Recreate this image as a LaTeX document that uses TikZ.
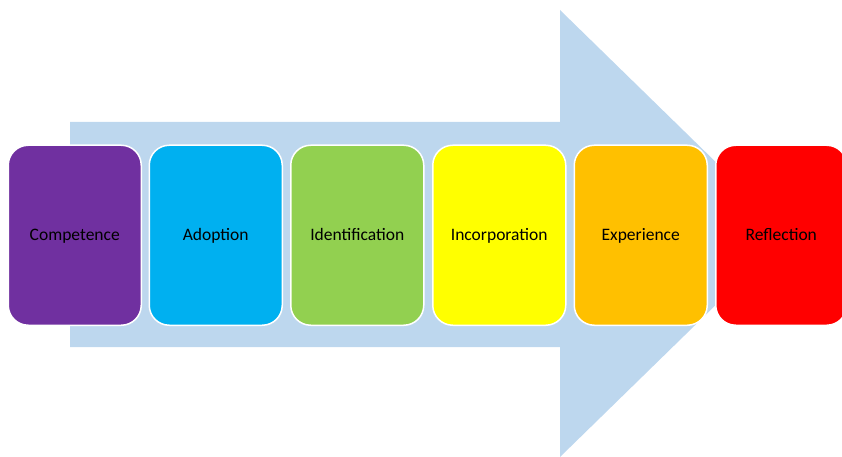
\documentclass[tikz,border=0pt]{standalone}
\usepackage{fontspec}
\setmainfont{Carlito}
\definecolor{arrowblue}{HTML}{BDD7EE}
\definecolor{cpurple}{HTML}{7030A0}
\definecolor{cblue}{HTML}{00B0F0}
\definecolor{cgreen}{HTML}{92D050}
\definecolor{cyellow}{HTML}{FFFF00}
\definecolor{corange}{HTML}{FFC000}
\definecolor{cred}{HTML}{FF0000}
\begin{document}
\begin{tikzpicture}[x=1pt,y=-1pt,
  stage/.style={draw=white, line width=1.5pt, rounded corners=20pt,
    minimum width=133pt, minimum height=180pt, inner sep=0pt,
    text height=14pt, text depth=3pt,
    font=\fontsize{17.5}{20}\selectfont, text=black, anchor=north west}]
\useasboundingbox (0,0) rectangle (842,457);
\clip (0,0) rectangle (842,457);
\fill[arrowblue] (70,122) -- (560,122) -- (560,10) -- (789,233.5) -- (560,457) -- (560,347) -- (70,347) -- cycle;
\node[stage, fill=cpurple] (c1) at (7.5,144.5) {Competence};
\node[stage, fill=cblue] (c2) at (148.5,144.5) {Adoption};
\node[stage, fill=cgreen] (c3) at (290,144.5) {Identification};
\node[stage, fill=cyellow] (c4) at (432,144.5) {Incorporation};
\node[stage, fill=corange] (c5) at (573.5,144.5) {Experience};
\node[stage, fill=cred, minimum width=131pt] (c6) at (715,144.5) {Reflection};
\end{tikzpicture}
\end{document}
